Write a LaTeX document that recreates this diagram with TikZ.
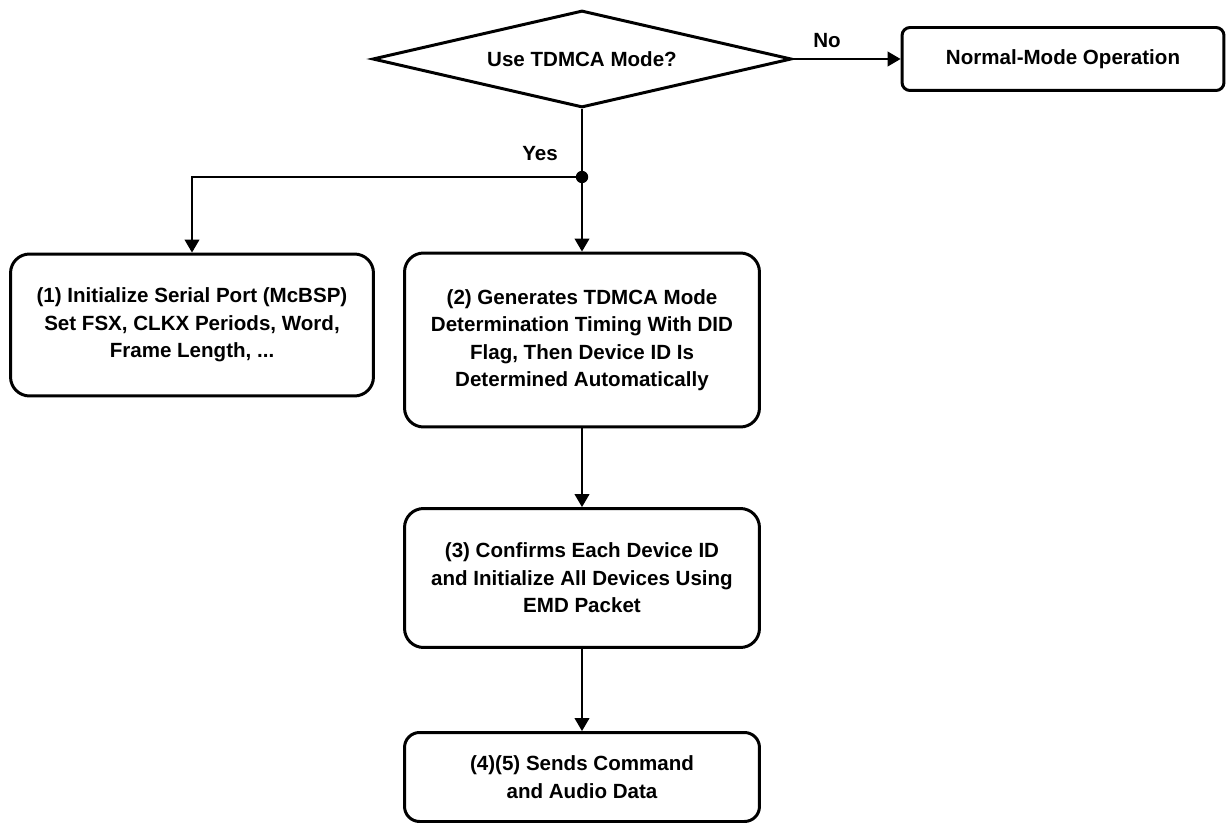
\documentclass[tikz,border=0pt]{standalone}
\usepackage{fontspec}
\setmainfont{Liberation Sans}
\usetikzlibrary{shapes.geometric,arrows.meta}

\newcommand{\flowfont}{\fontsize{11.7}{15.6}\selectfont\bfseries}

\begin{document}
\begin{tikzpicture}[x=0.02cm,y=-0.02cm,
  stepbox/.style={draw, line width=1.7pt, rounded corners=0.38cm, align=center,
    font=\flowfont, inner sep=0pt, minimum width=7.1cm},
  decision/.style={draw, diamond, line width=1.7pt, shape aspect=4.32, inner sep=0pt,
    minimum width=8.38cm, minimum height=1.94cm, font=\flowfont},
  conn/.style={line width=0.7pt, -{Triangle[length=7.4pt,width=8.5pt]}},
  lbl/.style={font=\flowfont}]
  \useasboundingbox (0,0) rectangle (1227,824);

  \node[decision] (mode) at (582,59) {Use TDMCA Mode?};
  \node[stepbox, rounded corners=0.16cm, minimum width=6.44cm, minimum height=1.26cm] (normal) at (1063,59) {Normal-Mode Operation};

  \node[stepbox, minimum width=7.26cm, minimum height=2.84cm] (init) at (192,325)
    {(1) Initialize Serial Port (McBSP)\\Set FSX, CLKX Periods, Word,\\Frame Length, ...};
  \node[stepbox, minimum height=3.48cm] (detect) at (582,340)
    {(2) Generates TDMCA Mode\\Determination Timing With DID\\Flag, Then Device ID Is\\Determined Automatically};
  \node[stepbox, minimum height=2.78cm] (confirm) at (582,578)
    {(3) Confirms Each Device ID\\and Initialize All Devices Using\\EMD Packet};
  \node[stepbox, rounded corners=0.3cm, minimum height=1.78cm] (send) at (582,777)
    {(4)(5) Sends Command\\and Audio Data};

  \coordinate (split) at (582,177);

  \draw[conn] (mode.east) -- (normal.west);
  \node[lbl] (no) at (827,41) {No};
  \draw[line width=0.7pt] (mode.south) -- (split);
  \node[lbl, left] (yes) at (564,154) {Yes};
  \fill (split) circle (6.2);
  \draw[conn] (split) -| (init.north);
  \draw[conn] (split) -- (detect.north);
  \draw[conn] (detect) -- (confirm);
  \draw[conn] (confirm) -- (send);
\end{tikzpicture}
\end{document}
